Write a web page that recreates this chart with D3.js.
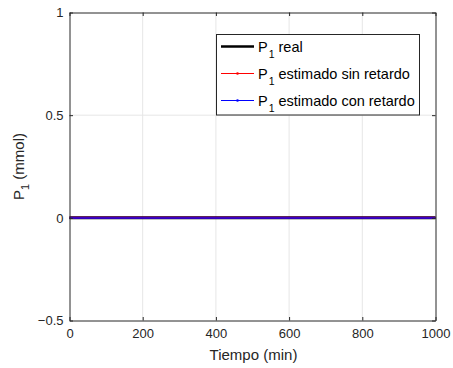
<!DOCTYPE html>
<html>
<head>
<meta charset="utf-8">
<script src="https://cdn.jsdelivr.net/npm/d3@7"></script>
<style>
  html, body { margin: 0; padding: 0; background: #fff; }
  svg { display: block; font-family: "Liberation Sans", Arial, Helvetica, sans-serif; }
</style>
</head>
<body>
<svg id="chart" width="453" height="368"></svg>
<script>
// ---- data ----
const time      = [0, 50, 100, 150, 200, 250, 300, 350, 400, 450, 500, 550, 600, 650, 700, 750, 800, 850, 900, 950, 1000];
const p1Real    = [0, 0, 0, 0, 0, 0, 0, 0, 0, 0, 0, 0, 0, 0, 0, 0, 0, 0, 0, 0, 0];
const p1SinRet  = [0, 0, 0, 0, 0, 0, 0, 0, 0, 0, 0, 0, 0, 0, 0, 0, 0, 0, 0, 0, 0];
const p1ConRet  = [0, 0, 0, 0, 0, 0, 0, 0, 0, 0, 0, 0, 0, 0, 0, 0, 0, 0, 0, 0, 0];
const xTicks    = [0, 200, 400, 600, 800, 1000];
const yTicks    = [-0.5, 0, 0.5, 1];
const seriesNames = ["real", "estimado sin retardo", "estimado con retardo"];

// ---- layout ----
const svg = d3.select("#chart");
const L = 69.5, R = 435.5, T = 12.5, B = 320.5;
const axisColor = "#262626";
const gridColor = "#e6e6e6";
const tickFont = 13, labelFont = 15, legFont = 14.5;

const x = d3.scaleLinear().domain([0, 1000]).range([L, R]);
const y = d3.scaleLinear().domain([-0.5, 1]).range([B, T]);

// grid
const grid = svg.append("g");
grid.selectAll("line.gx").data(xTicks.slice(1, -1)).join("line")
  .attr("x1", d => x(d)).attr("x2", d => x(d)).attr("y1", T).attr("y2", B)
  .attr("stroke", gridColor).attr("stroke-width", 1);
grid.selectAll("line.gy").data(yTicks.slice(1, -1)).join("line")
  .attr("x1", L).attr("x2", R).attr("y1", d => y(d)).attr("y2", d => y(d))
  .attr("stroke", gridColor).attr("stroke-width", 1);

// series lines
const line = d3.line().x((d, i) => x(time[i])).y(d => y(d));
svg.append("path").datum(p1Real).attr("d", line)
  .attr("fill", "none").attr("stroke", "#000").attr("stroke-width", 3);
svg.append("path").datum(p1SinRet).attr("d", line)
  .attr("fill", "none").attr("stroke", "#ff0000").attr("stroke-width", 2);
svg.append("path").datum(p1ConRet).attr("d", line)
  .attr("fill", "none").attr("stroke", "#0000ff").attr("stroke-width", 2.2).attr("stroke-opacity", 0.75);

// axes (box with inward ticks on all sides)
const tickLen = 3.5;
const axBottom = d3.axisBottom(x).tickValues(xTicks).tickSizeInner(-tickLen).tickSizeOuter(0).tickPadding(8).tickFormat(d3.format("d"));
const axLeft = d3.axisLeft(y).tickValues(yTicks).tickSizeInner(-tickLen).tickSizeOuter(0).tickPadding(6).tickFormat(d => d3.format("")(d));
const axTop = d3.axisTop(x).tickValues(xTicks).tickSizeInner(-tickLen).tickSizeOuter(0).tickFormat("");
const axRight = d3.axisRight(y).tickValues(yTicks).tickSizeInner(-tickLen).tickSizeOuter(0).tickFormat("");

function styleAxis(g) {
  g.selectAll("path.domain").attr("stroke", axisColor).attr("stroke-width", 1);
  g.selectAll(".tick line").attr("stroke", axisColor).attr("stroke-width", 1);
  g.selectAll(".tick text").attr("fill", axisColor).attr("font-size", tickFont)
    .attr("font-family", "'Liberation Sans', Arial, sans-serif");
}
svg.append("g").attr("transform", `translate(0,${B})`).call(axBottom).call(styleAxis);
svg.append("g").attr("transform", `translate(${L},0)`).call(axLeft).call(styleAxis);
svg.append("g").attr("transform", `translate(0,${T})`).call(axTop).call(styleAxis);
svg.append("g").attr("transform", `translate(${R},0)`).call(axRight).call(styleAxis);

// axis labels
svg.append("text").attr("x", (L + R) / 2 + 1).attr("y", 360)
  .attr("text-anchor", "middle").attr("font-size", labelFont).attr("fill", axisColor)
  .text("Tiempo (min)");
const yl = svg.append("text")
  .attr("transform", `translate(24,${(T + B) / 2}) rotate(-90)`)
  .attr("text-anchor", "middle").attr("font-size", labelFont).attr("fill", axisColor);
yl.append("tspan").text("P");
yl.append("tspan").attr("font-size", 11).attr("dy", 5).text("1");
yl.append("tspan").attr("dy", -5).text(" (mmol)");

// legend
const lg = svg.append("g");
lg.append("rect").attr("x", 216.5).attr("y", 34.5).attr("width", 203).attr("height", 80.5)
  .attr("fill", "#fff").attr("stroke", axisColor).attr("stroke-width", 1);
const legColors = ["#000", "#ff0000", "#0000ff"];
const legWidths = [2.5, 1, 1];
const rowY = [46.5, 73.5, 100.5];
seriesNames.forEach((name, i) => {
  lg.append("line").attr("x1", 221).attr("x2", 254).attr("y1", rowY[i]).attr("y2", rowY[i])
    .attr("stroke", legColors[i]).attr("stroke-width", legWidths[i]);
  if (i > 0) {
    lg.append("circle").attr("cx", 237.5).attr("cy", rowY[i]).attr("r", 1.3).attr("fill", legColors[i]);
  }
  const t = lg.append("text").attr("x", 258).attr("y", rowY[i] + 5)
    .attr("font-size", legFont).attr("fill", "#000");
  t.append("tspan").text("P");
  t.append("tspan").attr("font-size", 10.5).attr("dy", 6).attr("dx", 1).text("1");
  t.append("tspan").attr("dy", -6).attr("dx", 4).text(name);
});
</script>
</body>
</html>
